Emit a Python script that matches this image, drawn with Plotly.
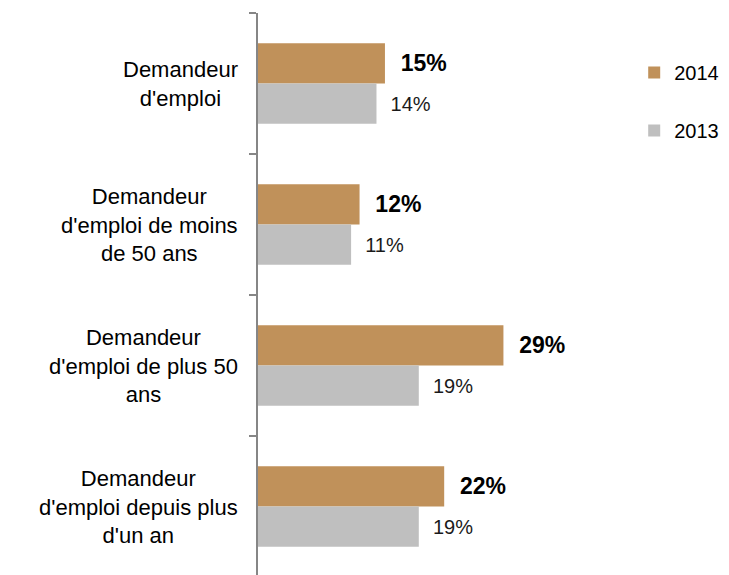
import plotly.graph_objects as go

categories = [
    "Demandeur<br>d'emploi",
    "Demandeur<br>d'emploi de moins<br>de 50 ans",
    "Demandeur<br>d'emploi de plus 50<br>ans",
    "Demandeur<br>d'emploi depuis plus<br>d'un an",
]
values_2014 = [15, 12, 29, 22]
values_2013 = [14, 11, 19, 19]
series_names = ["2014", "2013"]

FONT = "Liberation Sans, Arial, sans-serif"
NB = "\u00a0"

fig = go.Figure()
fig.add_trace(go.Bar(
    y=categories, x=values_2014, orientation="h", name=series_names[0],
    marker=dict(color="#C0915A", line=dict(width=0)),
    texttemplate=NB * 2 + "<b>%{x}%</b>", textposition="outside",
    textfont=dict(size=23, color="#000000", family=FONT),
    cliponaxis=False, legendgroup="a",
))
fig.add_trace(go.Bar(
    y=categories, x=values_2013, orientation="h", name=series_names[1],
    marker=dict(color="#BFBFBF", line=dict(width=0)),
    texttemplate=NB * 2 + "%{x}%", textposition="outside",
    textfont=dict(size=20, color="#1a1a1a", family=FONT),
    cliponaxis=False, legendgroup="b",
))

for c in categories:
    fig.add_annotation(
        x=0, xref="paper", y=c, yref="y", text=c, showarrow=False,
        xanchor="right", align="center", xshift=-18,
        font=dict(size=22, color="#000000", family=FONT),
    )

fig.update_layout(
    width=729, height=575,
    margin=dict(l=250, r=99, t=5, b=6, autoexpand=False),
    paper_bgcolor="white", plot_bgcolor="white",
    barmode="group", bargap=0.43, bargroupgap=0,
    showlegend=True,
    legend=dict(
        x=0.99, xanchor="left", y=0.929, yanchor="top",
        font=dict(size=20, color="#000000", family=FONT),
        tracegroupgap=29, traceorder="grouped",
        bgcolor="rgba(0,0,0,0)",
    ),
)
fig.update_xaxes(range=[0, 44.9], visible=False, showgrid=False, zeroline=False)
fig.update_yaxes(
    autorange="reversed", showticklabels=False, showgrid=False, zeroline=False,
    showline=True, linecolor="#868686", linewidth=2,
    ticks="outside", ticklen=7, tickcolor="#868686", tickwidth=2,
    tickson="boundaries",
)

fig.write_html("out.html")
